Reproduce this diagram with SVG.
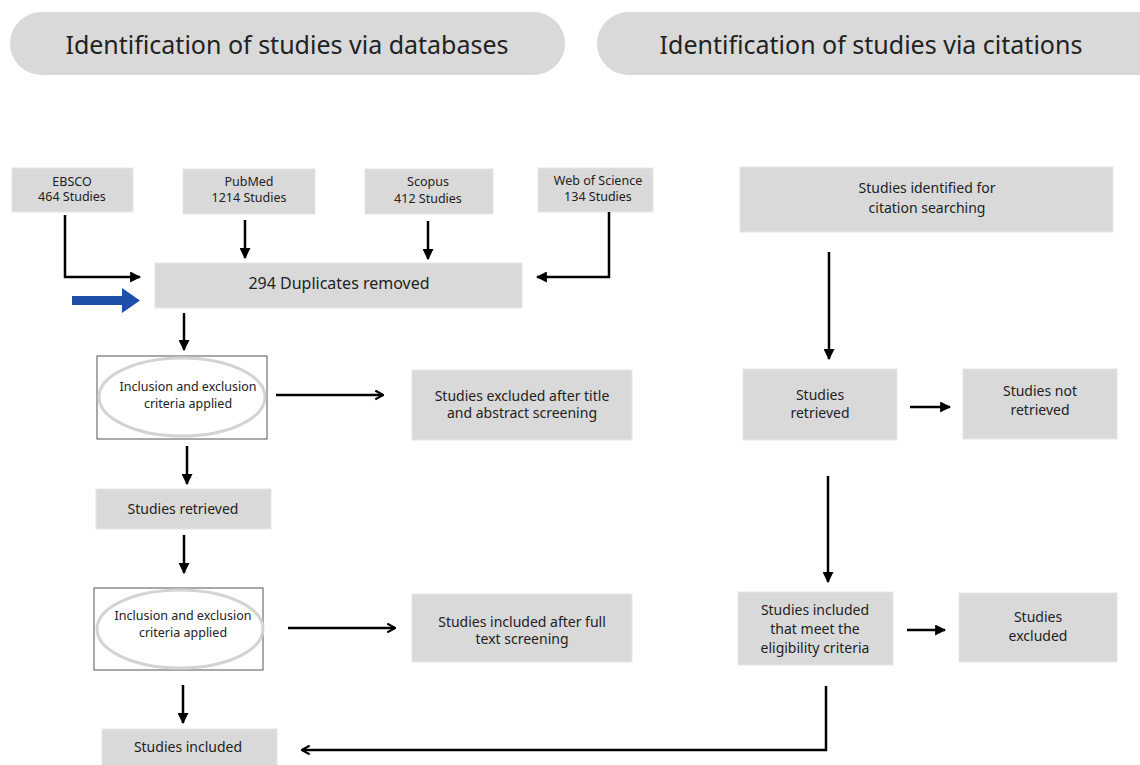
<svg xmlns="http://www.w3.org/2000/svg" width="1140" height="765" viewBox="0 0 1140 765">
<style>
.box{fill:#d9d9d9;stroke:#e6e6e6;stroke-width:1}
.pill{fill:#d9d9d9}
.frame{fill:#fff;stroke:#555;stroke-width:1}
.ell{fill:none;stroke:#d3d3d3;stroke-width:3}
text{font-family:"Noto Sans","Open Sans",sans-serif;fill:#222;text-anchor:middle}
.h{font-size:25px}
.s{font-size:12.5px}
.m{font-size:14px}
.l{font-size:16px}
.c{fill:none;stroke:#000;stroke-width:2.5}
</style>
<defs>
<marker id="tri" viewBox="0 0 10 10" refX="9" refY="5" markerWidth="4.4" markerHeight="4.4" orient="auto" markerUnits="strokeWidth">
<path d="M0,0 L10,5 L0,10 z" fill="#000"/>
</marker>
<marker id="chev" viewBox="0 0 10 10" refX="9" refY="5" markerWidth="4.4" markerHeight="4.4" orient="auto" markerUnits="strokeWidth">
<path d="M2,1 L9,5 L2,9" fill="none" stroke="#000" stroke-width="2"/>
</marker>
</defs>
<g id="header-databases"><rect class="pill" x="10" y="12" width="555" height="63" rx="31.5"/><text class="h" x="287" y="54">Identification of studies via databases</text></g>
<g id="header-citations"><rect class="pill" x="597" y="12" width="580" height="63" rx="31.5"/><text class="h" x="871" y="54">Identification of studies via citations</text></g>

<g id="ebsco"><rect class="box" x="12" y="168" width="121" height="44"/><text class="s"><tspan x="72" y="186">EBSCO</tspan><tspan x="72" y="201">464 Studies</tspan></text></g>
<g id="pubmed"><rect class="box" x="183" y="169" width="132" height="45"/><text class="s"><tspan x="249" y="186">PubMed</tspan><tspan x="249" y="202">1214 Studies</tspan></text></g>
<g id="scopus"><rect class="box" x="365" y="169" width="128" height="45"/><text class="s"><tspan x="428" y="186">Scopus</tspan><tspan x="428" y="203">412 Studies</tspan></text></g>
<g id="wos"><rect class="box" x="538" y="168" width="115" height="44"/><text class="s"><tspan x="598" y="185">Web of Science</tspan><tspan x="598" y="201">134 Studies</tspan></text></g>
<g id="duplicates"><rect class="box" x="155" y="263" width="367" height="45"/><text class="l" x="339" y="289">294 Duplicates removed</text></g>

<g id="criteria1"><rect class="frame" x="97" y="356" width="170" height="83"/><ellipse class="ell" cx="182" cy="397" rx="83" ry="39"/><text class="s"><tspan x="188" y="391">Inclusion and exclusion</tspan><tspan x="188" y="408">criteria applied</tspan></text></g>
<g id="excluded-title"><rect class="box" x="412" y="370" width="220" height="70"/><text class="m"><tspan x="522" y="401">Studies excluded after title</tspan><tspan x="522" y="418">and abstract screening</tspan></text></g>
<g id="retrieved-db"><rect class="box" x="96" y="489" width="175" height="40"/><text class="m" x="183" y="514">Studies retrieved</text></g>
<g id="criteria2"><rect class="frame" x="94" y="588" width="169" height="82"/><ellipse class="ell" cx="180" cy="629" rx="83" ry="39"/><text class="s"><tspan x="183" y="620">Inclusion and exclusion</tspan><tspan x="183" y="637">criteria applied</tspan></text></g>
<g id="included-full"><rect class="box" x="412" y="594" width="220" height="68"/><text class="m"><tspan x="522" y="627">Studies included after full</tspan><tspan x="522" y="644">text screening</tspan></text></g>
<g id="included"><rect class="box" x="102" y="729" width="175" height="40"/><text class="m" x="188" y="752">Studies included</text></g>

<g id="identified-citation"><rect class="box" x="740" y="167" width="373" height="65"/><text class="m"><tspan x="927" y="193">Studies identified for</tspan><tspan x="927" y="213">citation searching</tspan></text></g>
<g id="retrieved-cit"><rect class="box" x="743" y="369" width="154" height="71"/><text class="m"><tspan x="820" y="400">Studies</tspan><tspan x="820" y="418">retrieved</tspan></text></g>
<g id="not-retrieved"><rect class="box" x="963" y="369" width="154" height="70"/><text class="m"><tspan x="1040" y="396">Studies not</tspan><tspan x="1040" y="415">retrieved</tspan></text></g>
<g id="eligible"><rect class="box" x="738" y="592" width="155" height="73"/><text class="m"><tspan x="815" y="615">Studies included</tspan><tspan x="815" y="634">that meet the</tspan><tspan x="815" y="653">eligibility criteria</tspan></text></g>
<g id="excluded-cit"><rect class="box" x="959" y="593" width="158" height="69"/><text class="m"><tspan x="1038" y="622">Studies</tspan><tspan x="1038" y="641">excluded</tspan></text></g>

<g id="connectors">
<path class="c" d="M65,215 V277 H140" marker-end="url(#tri)"/>
<path class="c" d="M245,220 V258" marker-end="url(#tri)"/>
<path class="c" d="M428,221 V259" marker-end="url(#tri)"/>
<path class="c" d="M609,212 V277 H537" marker-end="url(#tri)"/>
<path d="M72,296 H122 V288 L140,300.5 L122,313 V305 H72 Z" fill="#1f4fa8"/>
<path class="c" d="M184,313 V350" marker-end="url(#tri)"/>
<path class="c" d="M276,395 H383" marker-end="url(#chev)"/>
<path class="c" d="M187,446 V484" marker-end="url(#tri)"/>
<path class="c" d="M184,535 V573" marker-end="url(#tri)"/>
<path class="c" d="M288,628 H395" marker-end="url(#chev)"/>
<path class="c" d="M183,685 V723" marker-end="url(#tri)"/>
<path class="c" d="M826,686 V750 H302" marker-end="url(#chev)"/>
<path class="c" d="M829,252 V359" marker-end="url(#tri)"/>
<path class="c" d="M910,407 H950" marker-end="url(#tri)"/>
<path class="c" d="M828,476 V582" marker-end="url(#tri)"/>
<path class="c" d="M907,630 H945" marker-end="url(#tri)"/>
</g>
</svg>
